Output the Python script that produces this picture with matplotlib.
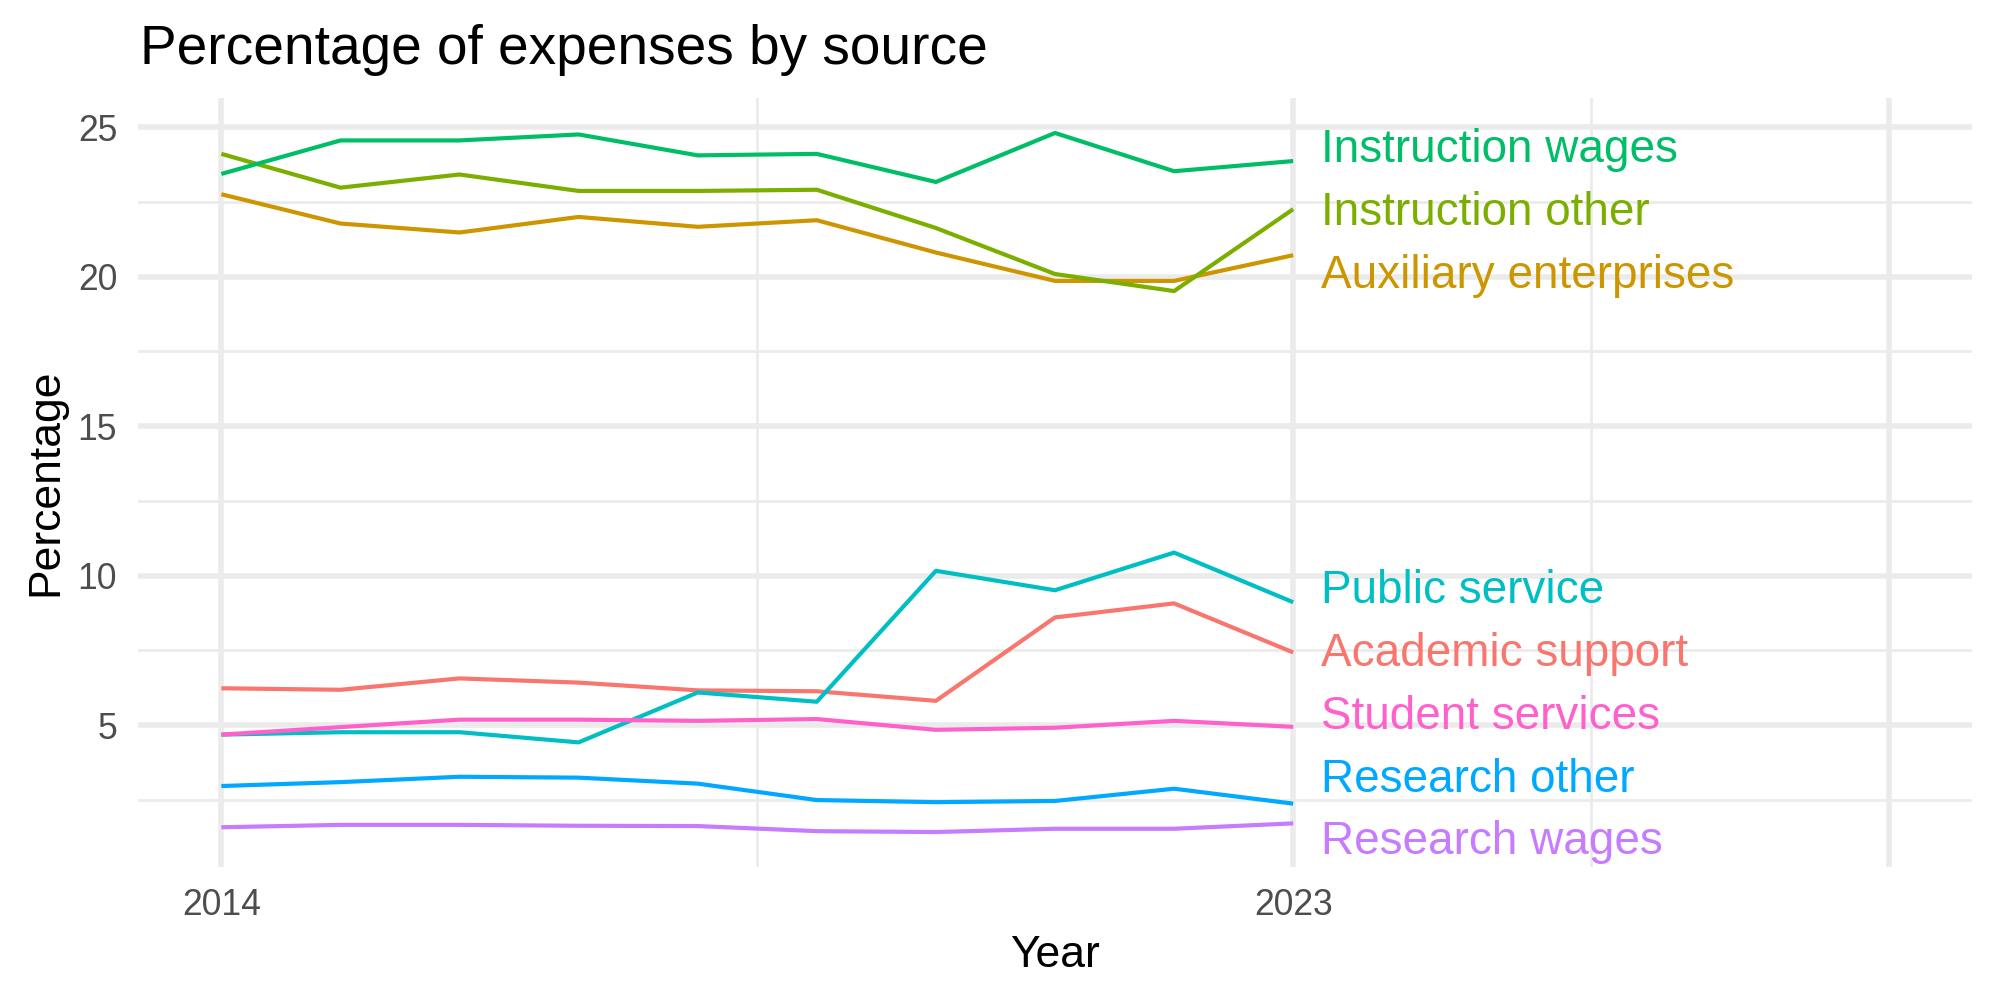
import matplotlib
matplotlib.use('Agg')
import matplotlib.pyplot as plt
import numpy as np

plt.rcParams['font.family'] = ['Liberation Sans', 'DejaVu Sans']

# Data
years = list(range(2014, 2024))
academic_support = [6.23, 6.18, 6.56, 6.42, 6.16, 6.13, 5.81, 8.60, 9.07, 7.43]
auxiliary_enterprises = [22.76, 21.78, 21.48, 22.00, 21.67, 21.89, 20.81, 19.86, 19.86, 20.72]
instruction_other = [24.11, 22.98, 23.42, 22.87, 22.87, 22.91, 21.63, 20.09, 19.52, 22.26]
instruction_wages = [23.44, 24.56, 24.56, 24.76, 24.06, 24.11, 23.17, 24.81, 23.53, 23.87]
public_service = [4.68, 4.76, 4.76, 4.42, 6.09, 5.78, 10.16, 9.51, 10.77, 9.11]
research_other = [2.96, 3.09, 3.27, 3.24, 3.04, 2.49, 2.42, 2.46, 2.87, 2.37]
research_wages = [1.58, 1.66, 1.66, 1.63, 1.62, 1.45, 1.42, 1.53, 1.53, 1.71]
student_services = [4.68, 4.93, 5.18, 5.18, 5.14, 5.20, 4.84, 4.91, 5.14, 4.94]

series_names = ["Academic support", "Auxiliary enterprises", "Instruction other",
                "Instruction wages", "Public service", "Research other",
                "Research wages", "Student services"]
series_values = [academic_support, auxiliary_enterprises, instruction_other,
                 instruction_wages, public_service, research_other,
                 research_wages, student_services]

x_breaks = [2014, 2023, 2028]
x_break_labels = ["2014", "2023", ""]
x_limit_max = 2028

# ggplot hue palette, 8 levels
colors = ["#F8766D", "#CD9600", "#7CAE00", "#00BE67",
          "#00BFC4", "#00A9FF", "#C77CFF", "#FF61CC"]


def expand(lo, hi, frac=0.05):
    pad = (hi - lo) * frac
    return lo - pad, hi + pad


def spread_labels(ends, gap, floor):
    """Push label positions apart (isotonic fit), keep them above floor."""
    order = np.argsort(ends)
    z = [ends[i] - k * gap for k, i in enumerate(order)]
    # pool adjacent violators
    blocks = []
    for v in z:
        blocks.append([v, 1])
        while len(blocks) > 1 and blocks[-2][0] > blocks[-1][0]:
            v2, n2 = blocks.pop()
            v1, n1 = blocks.pop()
            blocks.append([(v1 * n1 + v2 * n2) / (n1 + n2), n1 + n2])
    fitted = []
    for v, n in blocks:
        fitted += [max(v, floor)] * n
    out = np.empty(len(ends))
    for k, i in enumerate(order):
        out[i] = fitted[k] + k * gap
    return out


fig = plt.figure(figsize=(10, 5), dpi=200)
fig.patch.set_facecolor('white')
left, right, bottom, top = 0.069, 0.986, 0.133, 0.902
ax = fig.add_axes([left, bottom, right - left, top - bottom])

for name, vals, col in zip(series_names, series_values, colors):
    ax.plot(years, vals, color=col, linewidth=1.5, solid_capstyle='butt', zorder=3)

all_vals = np.concatenate(series_values)
y_lo, y_hi = expand(all_vals.min(), all_vals.max())
x_lo, x_hi = expand(years[0], x_limit_max)
ax.set_xlim(x_lo, x_hi)
ax.set_ylim(y_lo, y_hi)

# direct labels at the line ends
ends = np.array([v[-1] for v in series_values])
label_y = spread_labels(ends, gap=2.1, floor=y_lo + 0.97)
label_size = 16.5
cap_offset = -0.716 * label_size / 2
for name, col, ly in zip(series_names, colors, label_y):
    ax.annotate(name, xy=(years[-1] + 0.23, ly), xytext=(0, cap_offset),
                textcoords='offset points', ha='left', va='baseline',
                color=col, fontsize=label_size, zorder=4)

# grid, ggplot theme_minimal style
ax.set_xticks(x_breaks)
ax.set_xticklabels(x_break_labels)
ax.set_xticks([2018.5, 2025.5], minor=True)
ax.set_yticks([5, 10, 15, 20, 25])
ax.set_yticks([2.5, 7.5, 12.5, 17.5, 22.5], minor=True)
ax.grid(which='major', color='#EBEBEB', linewidth=2.0)
ax.grid(which='minor', color='#EBEBEB', linewidth=1.0)
ax.set_axisbelow(True)
for s in ax.spines.values():
    s.set_visible(False)
ax.tick_params(which='both', length=0)
ax.tick_params(axis='both', which='major', labelsize=12.8, labelcolor='#4D4D4D', pad=7.5)

panel_cx = (left + right) / 2
panel_cy = (bottom + top) / 2
fig.text(left + 0.001, 0.936, "Percentage of expenses by source", ha='left',
         va='baseline', fontsize=19.8, color='black')
fig.text(panel_cx, 0.033, "Year", ha='center', va='baseline', fontsize=16, color='black')
fig.text(0.0285, panel_cy, "Percentage", rotation=90, rotation_mode='anchor',
         ha='center', va='baseline', fontsize=16, color='black')

fig.savefig('out.png', dpi=200, facecolor='white')
